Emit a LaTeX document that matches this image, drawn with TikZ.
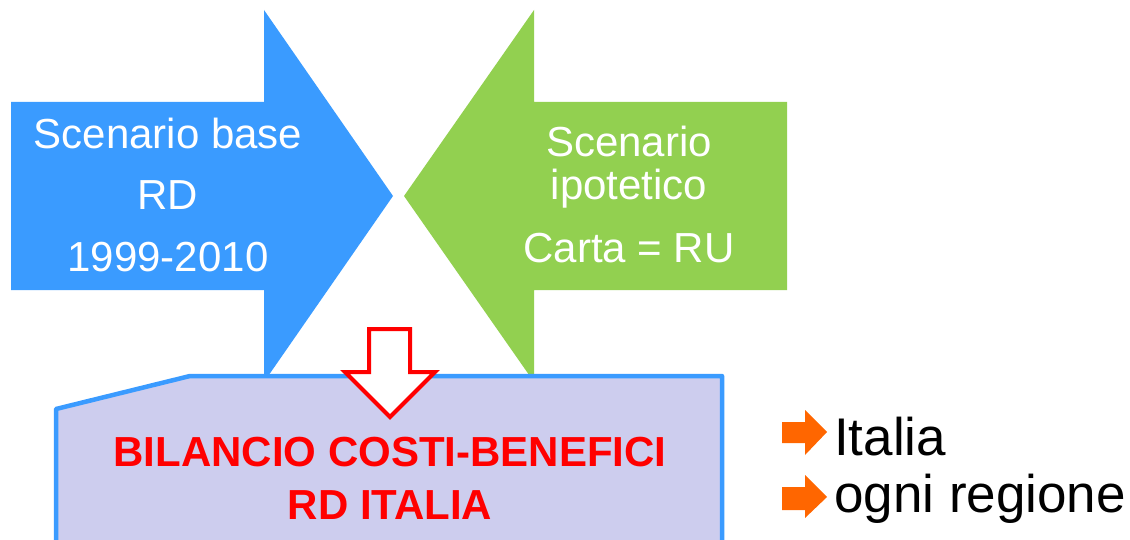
\documentclass[tikz,border=0pt]{standalone}
\usepackage{fontspec}
\setmainfont{Liberation Sans}
\definecolor{bluearr}{HTML}{3A9BFF}
\definecolor{greenarr}{HTML}{92D050}
\definecolor{lav}{HTML}{CDCDEE}
\definecolor{orangearr}{HTML}{FF6600}
\tikzset{
  bigtxt/.style={inner sep=0pt, anchor=base, text=white, font=\fontsize{42}{50}\selectfont},
  redtxt/.style={inner sep=0pt, anchor=base, text=red, font=\fontsize{42}{50}\selectfont\bfseries},
  sidetxt/.style={inner sep=0pt, anchor=base west, text=black, font=\fontsize{53}{60}\selectfont},
  bullet/.style={fill=orangearr, draw=none},
}
\begin{document}
\begin{tikzpicture}[x=1pt,y=-1pt]
\useasboundingbox (0,0) rectangle (1130,540);
\clip (0,0) rectangle (1130,540);
% blue arrow
\fill[bluearr] (11,102) -- (264,102) -- (264,10) -- (393,196) -- (264,382) -- (264,290) -- (11,290) -- cycle;
% green arrow
\fill[greenarr] (787,102) -- (534,102) -- (534,10) -- (404,196) -- (534,382) -- (534,290) -- (787,290) -- cycle;
% box
\draw[fill=lav, draw=bluearr, line width=4.5pt, line join=round] (56,560) -- (56,409) -- (190,376) -- (722,376) -- (722,560);
% red hollow arrow
\draw[fill=white, draw=red, line width=4pt, line join=miter] (369,329) -- (410,329) -- (410,372) -- (435,372) -- (390,417) -- (345,372) -- (369,372) -- cycle;
% texts
\node[bigtxt] (b1) at (168,149) {Scenario base};
\node[bigtxt] (b2) at (168,210) {RD};
\node[bigtxt] (b3) at (168,271) {1999-2010};
\node[bigtxt] (g1) at (629,157) {Scenario};
\node[bigtxt] (g2) at (629,200) {ipotetico};
\node[bigtxt] (g3) at (629,262) {Carta = RU};
\node[redtxt] (r1) at (390,466) {BILANCIO COSTI-BENEFICI};
\node[redtxt] (r2) at (390,519) {RD ITALIA};
% side bullets
\fill[bullet] (782,422) -- (805,422) -- (805,410) -- (827,432) -- (805,455) -- (805,443) -- (782,443) -- cycle;
\fill[bullet] (782,487) -- (805,487) -- (805,475) -- (827,497) -- (805,518) -- (805,510) -- (782,510) -- cycle;
\node[sidetxt] (s1) at (834,455) {Italia};
\node[sidetxt] (s2) at (834,512) {ogni regione};
\end{tikzpicture}
\end{document}
